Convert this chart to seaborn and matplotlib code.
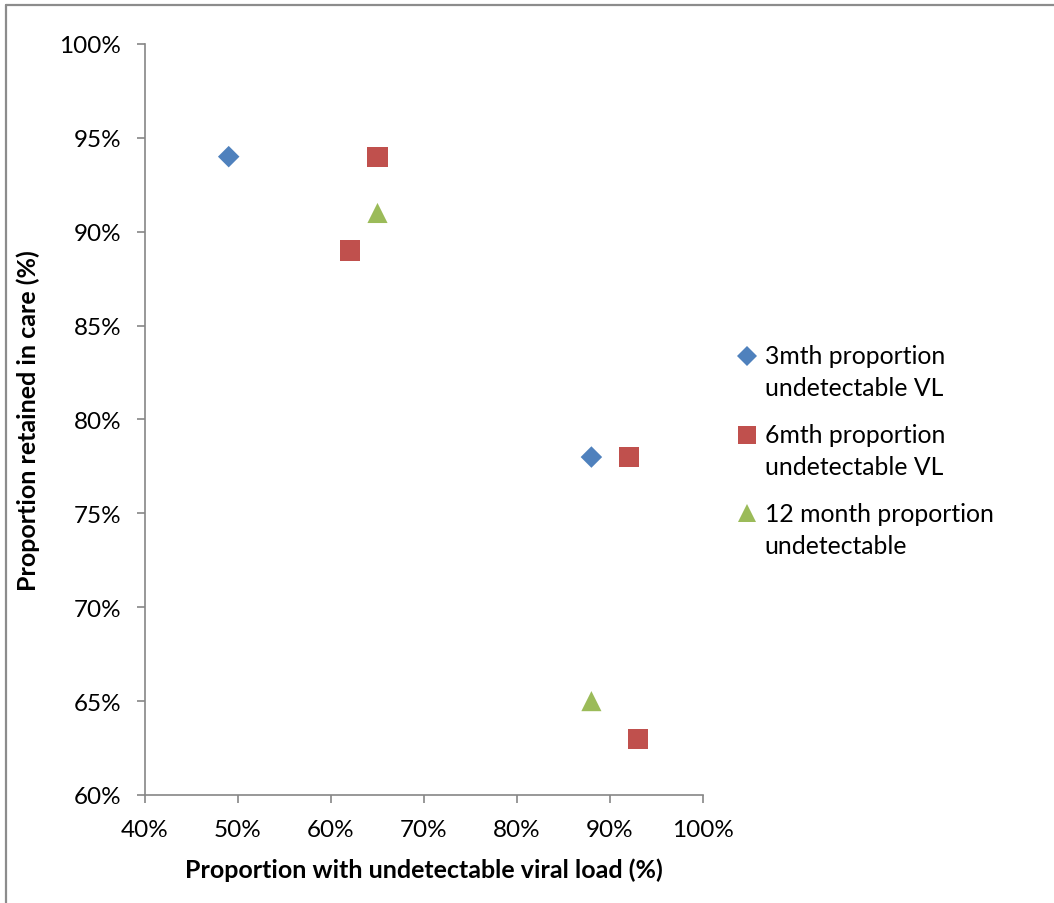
import numpy as np
import pandas as pd
import matplotlib
matplotlib.use("Agg")
import matplotlib.pyplot as plt
from matplotlib.lines import Line2D
from matplotlib.legend_handler import HandlerLine2D
from matplotlib.ticker import PercentFormatter, MultipleLocator
import seaborn as sns

# Proportion with undetectable viral load (%) vs proportion retained in care (%)
series_names = [
    "3mth proportion\nundetectable VL",
    "6mth proportion\nundetectable VL",
    "12 month proportion\nundetectable",
]
vl_3mth = [49, 88]
care_3mth = [94, 78]
vl_6mth = [65, 62, 92, 93]
care_6mth = [94, 89, 78, 63]
vl_12mth = [65, 88]
care_12mth = [91, 65]

colors = ["#4F81BD", "#C0504D", "#9BBB59"]
markers = ["D", "s", "^"]
marker_sizes = [120, 210, 210]

frames = []
for name, xs, ys in zip(series_names,
                        [vl_3mth, vl_6mth, vl_12mth],
                        [care_3mth, care_6mth, care_12mth]):
    frames.append(pd.DataFrame({"vl": xs, "care": ys, "series": name}))
df = pd.concat(frames, ignore_index=True)

sns.set_theme(style="white")
plt.rcParams["font.family"] = ["Lato", "DejaVu Sans"]

fig = plt.figure(figsize=(10.54, 9.04), dpi=100)
ax = fig.add_axes([145 / 1054, 1 - 796 / 904, (703 - 145) / 1054, (796 - 45) / 904])

for name, col, mk, sz in zip(series_names, colors, markers, marker_sizes):
    sub = df[df["series"] == name]
    sns.scatterplot(data=sub, x="vl", y="care", color=col, marker=mk, s=sz,
                    edgecolor="none", linewidth=0, ax=ax, legend=False, zorder=3)

ax.set_xlim(40, 100)
ax.set_ylim(60, 100)
ax.xaxis.set_major_locator(MultipleLocator(10))
ax.yaxis.set_major_locator(MultipleLocator(5))
ax.xaxis.set_major_formatter(PercentFormatter(decimals=0))
ax.yaxis.set_major_formatter(PercentFormatter(decimals=0))

spine_col = "#868686"
for side in ["top", "right"]:
    ax.spines[side].set_visible(False)
for side in ["left", "bottom"]:
    ax.spines[side].set_color(spine_col)
    ax.spines[side].set_linewidth(1.2)
ax.tick_params(axis="both", which="major", direction="out", length=6, width=1.2,
               color=spine_col, labelsize=17.5, labelcolor="black", pad=11,
               left=True, bottom=True)

ax.set_xlabel("Proportion with undetectable viral load (%)", fontsize=18,
              fontweight="bold", color="black", labelpad=13)
ax.set_ylabel("Proportion retained in care (%)", fontsize=18,
              fontweight="bold", color="black", labelpad=14)


class RaisedMarker(HandlerLine2D):
    """Place the legend key beside the first line of a two-line label."""

    def create_artists(self, legend, orig_handle, xdescent, ydescent, width,
                       height, fontsize, trans):
        arts = super().create_artists(legend, orig_handle, xdescent, ydescent,
                                      width, height, fontsize, trans)
        for a in arts:
            a.set_ydata(np.asarray(a.get_ydata(), dtype=float) + 0.68 * fontsize)
        return arts


handles = [Line2D([], [], linestyle="none", marker=mk, color=col,
                  markeredgewidth=0, markersize=ms)
           for mk, col, ms in zip(markers, colors, [10, 12.5, 12.5])]
leg = fig.legend(handles, series_names, loc="upper left",
                 bbox_to_anchor=(725 / 1054, 1 - 333 / 904),
                 frameon=False, fontsize=17.8, handlelength=0.8,
                 handletextpad=0.3, labelspacing=0.95, borderpad=0,
                 handler_map={Line2D: RaisedMarker()})
for t in leg.get_texts():
    t.set_linespacing(1.48)
    t.set_color("black")

# outer chart frame (left and top edges)
fig.add_artist(Line2D([6 / 1054, 6 / 1054], [0, 1 - 5.5 / 904],
                      transform=fig.transFigure, color="#8c8c8c", linewidth=1.6))
fig.add_artist(Line2D([6 / 1054, 1], [1 - 5.5 / 904, 1 - 5.5 / 904],
                      transform=fig.transFigure, color="#8c8c8c", linewidth=1.6))

fig.savefig("out.png", dpi=100, facecolor="white")
